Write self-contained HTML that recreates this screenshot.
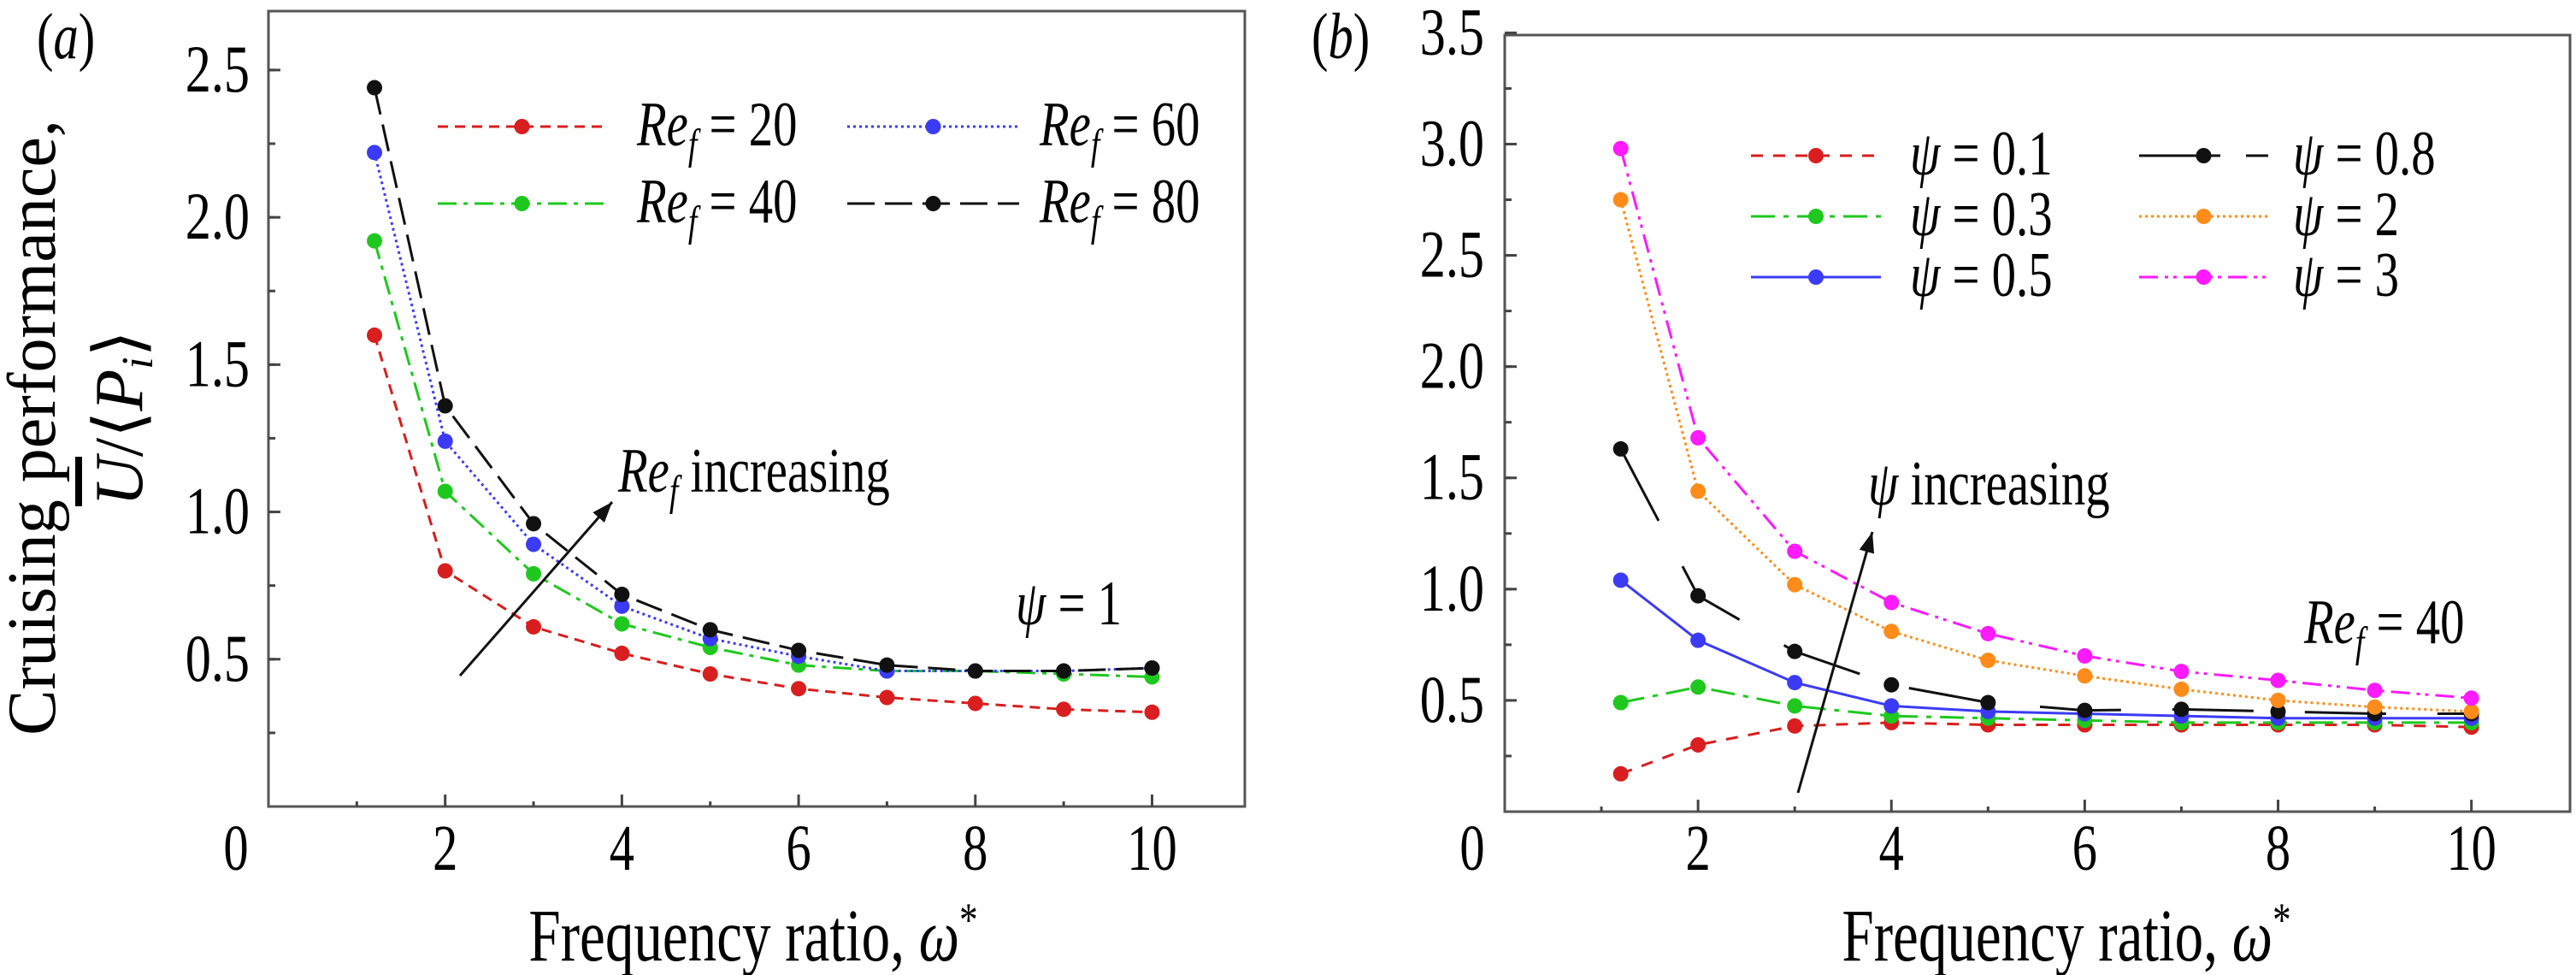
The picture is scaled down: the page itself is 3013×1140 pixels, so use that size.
<!DOCTYPE html>
<html><head><meta charset="utf-8"><style>
html,body{margin:0;padding:0;background:#fff;}
svg{display:block;font-family:"Liberation Serif",serif;}
</style></head><body>
<svg id="fig" width="3013" height="1140" viewBox="0 0 3013 1140" xmlns="http://www.w3.org/2000/svg">
<g id="pa"></g>
<g id="pb"></g>
</svg>
<script>
const NS="http://www.w3.org/2000/svg";
// ---------- data ----------
const omega=[1.2,2,3,4,5,6,7,8,9,10];
const xTicks=[0,2,4,6,8,10];
const yTicksA=[0.5,1.0,1.5,2.0,2.5];
const yTicksB=[0.5,1.0,1.5,2.0,2.5,3.0,3.5];
const re20=[1.60,0.80,0.61,0.52,0.45,0.40,0.37,0.35,0.33,0.32];
const re40=[1.92,1.07,0.79,0.62,0.54,0.48,0.46,0.46,0.45,0.44];
const re60=[2.22,1.24,0.89,0.68,0.57,0.51,0.46,0.46,0.46,0.47];
const re80=[2.44,1.36,0.96,0.72,0.60,0.53,0.48,0.46,0.46,0.47];
const psi01=[0.17,0.30,0.385,0.40,0.39,0.39,0.39,0.39,0.39,0.38];
const psi03=[0.49,0.56,0.475,0.43,0.42,0.41,0.40,0.40,0.40,0.40];
const psi05=[1.04,0.77,0.58,0.475,0.45,0.44,0.43,0.42,0.42,0.42];
const psi08=[1.63,0.97,0.72,0.57,0.49,0.455,0.46,0.45,0.44,0.44];
const psi2=[2.75,1.44,1.02,0.81,0.68,0.61,0.55,0.50,0.47,0.45];
const psi3=[2.98,1.68,1.17,0.94,0.80,0.70,0.63,0.59,0.545,0.51];

const SX=0.86, SY=1.12;
function el(tag,attrs,parent){const e=document.createElementNS(NS,tag);for(const k in attrs)e.setAttribute(k,attrs[k]);if(parent)parent.appendChild(e);return e;}
function ctext(parent,x,y,size,html,anchor,rot){
  const tr=rot?`translate(${x},${y}) rotate(-90)`:`translate(${x},${y}) scale(${SX},${SY})`;
  const t=el('text',{x:0,y:0,'font-size':size,fill:'#000','text-anchor':anchor||'start',transform:tr},parent);
  t.innerHTML=html;
  return t;
}

function panel(g,box,xr,yr,yTicks,yMinorStep,series,lblX){
  const sx=v=>box.l+(v-xr[0])/(xr[1]-xr[0])*(box.r-box.l);
  const sy=v=>box.b-(v-yr[0])/(yr[1]-yr[0])*(box.b-box.t);
  const frame=el('rect',{x:box.l,y:box.t,width:box.r-box.l,height:box.b-box.t,fill:'none',stroke:'#555','stroke-width':3},g);
  
  
  for(let v=1;v<=10;v++){
    const major=v%2===0;
    const t=el('line',{x1:sx(v),x2:sx(v),y1:box.b,y2:box.b-(major?14:6),stroke:'#444','stroke-width':3},g);
    
    
  }
  xTicks.forEach(v=>{
    const tx=ctext(g,v===0?sx(0)-38:sx(v),1017,68,String(v),'middle');
    
    
  });
  for(let v=yMinorStep;v<yr[1];v+=yMinorStep){
    const t=el('line',{x1:box.l,x2:box.l+8,y1:sy(v),y2:sy(v),stroke:'#444','stroke-width':3},g);
    
    
  }
  yTicks.forEach(v=>{
    const t=el('line',{x1:box.l,x2:box.l+14,y1:sy(v),y2:sy(v),stroke:'#444','stroke-width':3},g);
    
    
    const tx=ctext(g,lblX,sy(v)+25,70,v.toFixed(1),'end');
    
    
  });
  series.forEach(s=>{
    const pts=omega.map((w,i)=>sx(w)+','+sy(s.vals[i])).join(' ');
    const pl=el('polyline',{points:pts,fill:'none',stroke:s.color,'stroke-width':s.w||3,'stroke-dasharray':s.dash},g);
    
    
    omega.forEach((w,i)=>{
      const c=el('circle',{cx:sx(w),cy:sy(s.vals[i]),r:9,fill:s.color},g);
      
      
    });
  });
}

function legendEntry(g,x1,x2,y,s,textHTML,tx){
  const l=el('line',{x1:x1,x2:x2,y1:y,y2:y,stroke:s.color,'stroke-width':s.w||3,'stroke-dasharray':s.legDash||s.dash},g);
  
  
  const c=el('circle',{cx:(x1+x2)/2,cy:y,r:9,fill:s.color},g);
  
  
  const t=ctext(g,tx,y+22,66,textHTML,'start');
  
  
}
const reTxt=n=>'<tspan font-style="italic">Re</tspan><tspan font-style="italic" font-size="44" dy="14">f</tspan><tspan dy="-14"> = '+n+'</tspan>';
const psiTxt=n=>'<tspan font-style="italic">ψ</tspan> = '+n;

// ---------- panel a ----------
const ga=document.getElementById('pa');
const serA=[
 {name:'re20',vals:re20,color:'#d81e1e',dash:'12 8'},
 {name:'re40',vals:re40,color:'#1ec81e',dash:'22 8 5 8'},
 {name:'re60',vals:re60,color:'#3b3bf5',dash:'3 4'},
 {name:'re80',vals:re80,color:'#111',dash:'32 12'}
];
panel(ga,{l:314,r:1456,t:13,b:943},[0,11.05],[0,2.7],yTicksA,0.25,serA,292);
legendEntry(ga,512,709,148,serA[0],reTxt(20),745);
legendEntry(ga,991,1192,148,serA[2],reTxt(60),1216);
legendEntry(ga,512,709,238,serA[1],reTxt(40),745);
legendEntry(ga,991,1192,238,serA[3],reTxt(80),1216);

// ---------- panel b ----------
const gb=document.getElementById('pb');
const serB=[
 {name:'psi01',vals:psi01,color:'#d81e1e',dash:'14 12'},
 {name:'psi03',vals:psi03,color:'#1ec81e',dash:'28 10 6 10'},
 {name:'psi05',vals:psi05,color:'#3b3bf5',dash:''},
 {name:'psi08',vals:psi08,color:'#111',dash:'95 60',legDash:'95 30 40 40'},
 {name:'psi2',vals:psi2,color:'#ff8c1a',dash:'3 4'},
 {name:'psi3',vals:psi3,color:'#ff1aff',dash:'22 8 4 6 4 8'}
];
panel(gb,{l:1760,r:3006,t:41,b:949},[0,11.02],[0,3.49],yTicksB,0.25,serB,1736);
legendEntry(gb,2048,2200,182,serB[0],psiTxt('0.1'),2234);
legendEntry(gb,2048,2200,253,serB[1],psiTxt('0.3'),2234);
legendEntry(gb,2048,2200,324,serB[2],psiTxt('0.5'),2234);
legendEntry(gb,2502,2653,182,serB[3],psiTxt('0.8'),2682);
legendEntry(gb,2502,2653,253,serB[4],psiTxt('2'),2682);
legendEntry(gb,2502,2653,324,serB[5],psiTxt('3'),2682);

// ---------- annotations ----------
const svg=document.getElementById('fig');
function arrow(x1,y1,x2,y2,name){
  const a=el('line',{x1,y1,x2,y2,stroke:'#111','stroke-width':3},svg);
  
  
  const ang=Math.atan2(y2-y1,x2-x1),L=24,W=9;
  const bx=x2-L*Math.cos(ang),by=y2-L*Math.sin(ang);
  const p=el('polygon',{points:`${x2},${y2} ${bx+W*Math.sin(ang)},${by-W*Math.cos(ang)} ${bx-W*Math.sin(ang)},${by+W*Math.cos(ang)}`,fill:'#111'},svg);
  
  
}
arrow(538,790,716,587,'re-arrow');
arrow(2103,927,2190,622,'psi-arrow');
function txt(x,y,size,html,name,anchor,rot){
  const t=ctext(svg,x,y,size,html,anchor,rot);
  
  
  return t;
}
txt(723,575,66,'<tspan font-style="italic">Re</tspan><tspan font-style="italic" font-size="44" dy="14">f</tspan><tspan dy="-14">  increasing</tspan>','re-increasing-label');
txt(2185,590,66,'<tspan font-style="italic">ψ</tspan>  increasing','psi-increasing-label');
txt(1188,730,66,'<tspan font-style="italic">ψ</tspan> = 1','psi-1-label');
txt(2695,752,66,reTxt(40),'ref-40-label');
txt(43,68,68,'(<tspan font-style="italic">a</tspan>)','panel-a-label');
txt(1534,68,68,'(<tspan font-style="italic">b</tspan>)','panel-b-label');
txt(881,1123,78,'Frequency ratio, <tspan font-style="italic">ω</tspan><tspan font-size="50" dy="-26">*</tspan>','x-axis-title-a','middle');
txt(2417,1123,78,'Frequency ratio, <tspan font-style="italic">ω</tspan><tspan font-size="50" dy="-26">*</tspan>','x-axis-title-b','middle');
txt(64,500,80,'Cruising performance,','y-axis-title','middle',true);
txt(166,489,80,'<tspan font-style="italic" text-decoration="overline">U</tspan>/⟨<tspan font-style="italic">P</tspan><tspan font-style="italic" font-size="52" dy="12">i</tspan><tspan dy="-12">⟩</tspan>','y-axis-title-formula','middle',true);
</script>
</body></html>
